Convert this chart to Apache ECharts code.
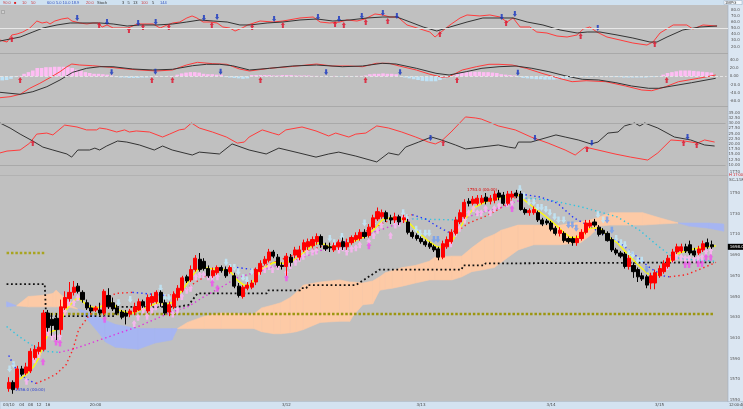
<!DOCTYPE html>
<html>
<head>
<meta charset="utf-8">
<script src="https://cdn.jsdelivr.net/npm/echarts@6/dist/echarts.min.js"></script>
<style>
html,body{margin:0;padding:0;background:#c0c0c0;}
#main{width:743px;height:409px;}
</style>
</head>
<body>
<div id="main"></div>
<script>
// ---- data ----
var categories = [];
for (var n = 0; n < 166; n++) categories.push(String(n));
var timeTicks = {0:'03/10', 3:'04', 5:'08', 7:'12', 9:'16', 20:'20:00', 64:'3/12', 95:'3/13', 125:'3/14', 150:'3/15'};

// [open, close, low, high]
var candles = [
[1561,1567,1558,1572],[1567,1560,1556,1569],[1562,1580,1560,1583],[1580,1575,1573,1583],[1576,1582,1574,1586],
[1578,1597,1576,1600],[1591,1599,1589,1603],[1597,1601,1594,1606],[1599,1634,1597,1637],[1634,1620,1616,1637],
[1628,1622,1612,1634],[1629,1618,1608,1634],[1618,1640,1613,1647],[1639,1649,1637,1655],[1648,1654,1645,1664],
[1654,1659,1651,1665],[1660,1655,1653,1663],[1654,1647,1644,1656],[1644,1639,1637,1647],[1639,1636,1634,1642],
[1637,1639,1635,1641],[1637,1634,1632,1644],[1634,1655,1632,1657],[1651,1640,1638,1658],[1644,1638,1636,1649],
[1639,1634,1632,1642],[1635,1630,1628,1637],[1634,1631,1623,1637],[1633,1636,1630,1638],[1635,1640,1632,1644],
[1637,1645,1636,1648],[1645,1641,1639,1647],[1636,1649,1634,1652],[1644,1650,1641,1653],[1645,1654,1643,1656],
[1654,1644,1640,1656],[1644,1634,1632,1647],[1635,1642,1631,1645],[1640,1652,1638,1655],[1649,1658,1646,1661],
[1656,1668,1654,1670],[1669,1665,1663,1671],[1666,1676,1664,1680],[1676,1687,1674,1690],[1686,1676,1674,1692],
[1684,1677,1675,1687],[1677,1670,1668,1680],[1670,1675,1668,1678],[1673,1678,1671,1680],[1678,1675,1673,1680],
[1676,1670,1668,1679],[1674,1678,1672,1680],[1670,1660,1658,1673],[1660,1651,1649,1663],[1650,1659,1648,1661],
[1658,1661,1656,1664],[1659,1663,1657,1666],[1664,1676,1661,1678],[1674,1682,1671,1685],[1682,1686,1680,1689],
[1685,1693,1683,1696],[1693,1689,1687,1695],[1688,1680,1678,1691],[1680,1679,1676,1683],[1679,1689,1670,1692],
[1688,1683,1679,1691],[1690,1695,1687,1698],[1688,1695,1685,1699],[1695,1702,1693,1705],[1698,1703,1695,1706],
[1699,1705,1697,1708],[1703,1708,1700,1711],[1708,1700,1697,1710],[1699,1696,1694,1702],[1698,1697,1693,1702],
[1695,1699,1693,1702],[1698,1702,1695,1705],[1703,1698,1695,1707],[1698,1702,1695,1705],[1702,1707,1700,1709],
[1705,1709,1703,1712],[1706,1712,1704,1715],[1712,1708,1706,1715],[1709,1717,1707,1720],[1717,1726,1715,1729],
[1725,1732,1723,1736],[1727,1731,1725,1734],[1731,1725,1722,1733],[1726,1724,1720,1729],[1724,1727,1721,1731],
[1727,1722,1719,1729],[1724,1726,1721,1729],[1722,1712,1710,1725],[1712,1708,1706,1714],[1709,1706,1704,1711],
[1706,1703,1701,1708],[1703,1700,1698,1705],[1701,1698,1696,1703],[1698,1695,1693,1700],[1696,1688,1685,1698],
[1688,1701,1686,1704],[1698,1705,1696,1708],[1703,1712,1701,1715],[1711,1724,1709,1727],[1722,1731,1720,1734],
[1727,1741,1725,1744],[1742,1740,1737,1745],[1740,1744,1738,1747],[1740,1745,1738,1748],[1741,1745,1739,1748],
[1746,1742,1739,1750],[1742,1745,1739,1748],[1743,1749,1740,1752],[1750,1746,1743,1753],[1748,1740,1738,1751],
[1740,1749,1738,1752],[1746,1749,1744,1752],[1750,1747,1745,1753],[1749,1734,1733,1752],[1734,1731,1729,1736],
[1731,1733,1728,1735],[1731,1734,1729,1737],[1731,1724,1722,1733],[1724,1720,1718,1726],[1723,1721,1719,1725],
[1721,1715,1713,1723],[1716,1711,1709,1718],[1711,1714,1708,1717],[1711,1704,1702,1713],[1706,1703,1701,1708],
[1706,1702,1699,1708],[1702,1706,1699,1709],[1706,1712,1704,1715],[1712,1721,1710,1724],[1718,1721,1716,1724],
[1722,1719,1717,1725],[1717,1710,1708,1719],[1714,1711,1709,1716],[1711,1704,1703,1713],[1705,1695,1693,1707],
[1695,1692,1690,1697],[1692,1689,1687,1694],[1691,1679,1677,1693],[1679,1687,1676,1690],[1680,1674,1668,1683],
[1676,1669,1664,1678],[1670,1667,1665,1673],[1669,1661,1658,1671],[1663,1670,1657,1673],[1663,1673,1657,1676],
[1670,1677,1668,1680],[1674,1682,1672,1685],[1679,1687,1677,1690],[1685,1693,1683,1696],[1693,1698,1691,1701],
[1694,1698,1692,1701],[1698,1694,1692,1701],[1700,1692,1690,1704],[1694,1690,1688,1697],[1692,1696,1690,1699],
[1695,1701,1693,1704],[1702,1698,1696,1706],[1700,1698,1696,1704]
];

// moving averages, [bar, price]
var maShort = [[2.5,1570],[4.1,1575],[5.7,1582],[7,1591],[8.2,1606],[9.3,1615],[10.9,1618],[12,1626],[13.2,1637],
[14.8,1645],[15.9,1649],[17.1,1645],[18.2,1641],[20,1639],[21.2,1640],[22.3,1644],[23.9,1644],[25.3,1637],[26.9,1635],
[28.5,1634],[29.8,1636],[32.1,1640],[34.4,1644],[36,1642],[37.6,1644],[38.9,1650],[40.5,1659],[42.1,1669],[43.5,1676],
[45.1,1678],[46.7,1677],[48.1,1676],[49.7,1676],[51.3,1673],[52.6,1666],[54.2,1661],[55.8,1661],[58.1,1676],[61.1,1683],
[63.3,1682],[65.6,1685],[67.9,1692],[70.2,1700],[71.8,1702],[74,1698],[76.3,1699],[79.3,1703],[82.3,1708],[84.5,1716],
[86.1,1724],[87.7,1726],[90,1726],[92.3,1721],[94.6,1711],[96.9,1703],[98.7,1698],[100.3,1698],[102.1,1703],[103.7,1714],
[105.1,1724],[107.3,1736],[109.6,1741],[112.8,1745],[115.8,1747],[117.4,1748],[119.7,1740],[121,1736],[123.3,1729],
[125.6,1721],[127.9,1712],[129.5,1707],[131.1,1707],[132.5,1711],[134,1716],[136.3,1716],[137.9,1709],[140.2,1702],
[142.4,1692],[144.7,1682],[147,1673],[148.4,1669],[150,1673],[151.6,1679],[153,1687],[154.5,1692],[156.8,1695],
[159.1,1697],[163,1699]];
var maMid = [[0,1593],[0.6,1588],[1.8,1579],[4.1,1570],[6.3,1566],[8.6,1570],[10.9,1575],[13.2,1584],[14.8,1599],
[16.1,1618],[18.4,1631],[20.7,1642],[24.6,1653],[28.5,1654],[33.7,1652],[36,1651],[37.6,1652],[40.5,1656],[42.8,1663],
[45.1,1669],[49,1676],[52.6,1678],[56.5,1676],[61.1,1683],[65.6,1690],[71.8,1698],[79.3,1707],[86.8,1722],[90,1727],
[93,1729],[96,1725],[99.1,1717],[101.4,1712],[103.7,1714],[106,1721],[109.6,1727],[112.8,1734],[115.8,1743],[118.1,1749],
[122.6,1746],[126.5,1740],[130.2,1726],[132.5,1721],[136.3,1712],[140.2,1704],[143.8,1692],[147.7,1678],[150.7,1670],
[152.3,1669],[156.1,1671],[159.1,1676],[163,1683]];
var maLong = [[-0.5,1621],[2.5,1611],[5.7,1602],[8.6,1597],[11.6,1596],[14.8,1599],[22.3,1610],[29.8,1621],[37.6,1635],
[41.2,1640],[45.1,1650],[49,1659],[52.6,1668],[56.5,1673],[61.1,1679],[67.9,1688],[75.4,1700],[83.2,1711],[86.8,1716],
[90.7,1722],[93,1725],[97.5,1724.5],[103.7,1724],[109.6,1732],[113.5,1736],[116.5,1741],[119.2,1745],[121,1744.5],
[124.9,1743],[132.5,1736],[140.2,1727],[145.4,1714],[149.3,1700],[153,1688],[156.1,1686],[163,1684]];
var baseLine = [[-0.5,1662],[8.3,1662],[8.6,1631],[24.5,1631],[24.8,1640],[38.9,1640],[41.5,1642],[43.5,1653],[59.5,1653],
[59.8,1656],[67.2,1656],[67.5,1658],[68.6,1658],[68.9,1661],[80,1661],[85.5,1676],[104.4,1676],[104.7,1680],[109.6,1680],
[109.9,1682],[113.5,1682],[113.8,1683],[162.5,1683]];
var levelHigh = [[-0.5,1692],[8.2,1692]];
var levelLow = [[8.6,1633],[162.5,1633]];

// cloud: [bar, span A, span B]
var cloud = [[-0.5,1640,1645],[1.8,1641,1641],[4.5,1650,1640],[7.5,1651,1640],[10.2,1653,1640],[10.9,1656,1640],
[12.5,1650,1640],[13.6,1643,1640],[15.9,1638,1638],[17.7,1630,1636],[20.7,1615,1630],[22.3,1606,1627],[24.6,1601,1623],
[29.8,1599,1619],[33.7,1605,1619],[37.6,1608,1619],[38.9,1619,1619],[41.2,1625,1619],[45.1,1631,1619],[49,1634,1619],
[56.5,1633,1619],[58.3,1639,1616],[61.1,1642,1614],[62.7,1644,1614],[64.9,1649,1615],[66.3,1654,1616],[67.9,1661,1618],
[71.8,1664,1625],[76.3,1666,1626],[78.6,1664,1626],[79.3,1664,1631],[81.6,1663,1642],[83.9,1665,1643],[85.5,1669,1656],
[86.8,1673,1657],[88.4,1675,1658],[90.7,1678,1660],[93.7,1680,1663],[96.9,1684,1666],[98.2,1688,1666],[102.1,1689,1666],
[104.4,1689,1669],[106.7,1697,1674],[109.6,1706,1676],[111.9,1710,1678],[113.5,1714,1683],[117.4,1719,1695],
[121,1719,1700],[127.2,1719,1700],[131.8,1722,1702],[134,1724,1709],[136.3,1727,1718],[138.6,1731,1719],
[146.1,1731,1719],[150,1726,1720],[154.3,1721,1721],[156.8,1718,1721],[161.4,1716,1721],[164.8,1713,1720]];

// stop-and-reverse arrows
var sarUp = [[4.1,1568],[5.9,1589],[7,1594],[9.1,1615],[10,1611],[10.9,1611],[11.8,1611],[13,1635],[13.9,1644],[15,1644],
[15.9,1649],[23,1642],[28.9,1624],[29.8,1630],[31,1637],[31.9,1631],[33,1637],[33.9,1640],[35,1644],[36,1637],[37.8,1633],
[38.9,1637],[39.9,1650],[41,1656],[41.9,1658],[43.1,1669],[44,1671],[44.9,1671],[46,1669],[46.9,1668],[48.1,1669],
[57,1674],[57.9,1674],[59,1676],[60,1679],[60.8,1676],[62,1679],[64,1673],[64.9,1680],[66.1,1683],[67,1687],[67.9,1689],
[68.8,1693],[70,1693],[70.9,1694],[72.9,1697],[76.1,1695],[77,1697],[77.9,1693],[79,1696],[80,1697],[80.9,1700],[83,1703],
[84.1,1709],[85,1714],[85.9,1719],[88,1709],[89.1,1719],[90,1721],[90.9,1726],[101,1701],[101.9,1701],[103,1711],
[103.9,1716],[105.1,1724],[106,1731],[107.1,1735],[108,1731],[108.9,1731],[109.9,1735],[111,1731],[111.9,1735],[113,1738],
[114.9,1740],[116,1740],[151.8,1679],[153,1686],[153.9,1689],[155,1688],[155.9,1687],[156.8,1687],[158,1686],[158.9,1687],
[159.8,1688],[160.7,1693],[161.8,1694]];
var sarUpDark = [[7.9,1587],[10.9,1606],[11.8,1605],[22.1,1628],[46.9,1663],[48.1,1658],[64,1668],[83,1699],[116,1735],
[155.9,1681],[156.8,1681],[158.9,1682],[159.8,1682],[160.7,1688],[161.8,1688]];
var sarDown = [[0.2,1580],[1.1,1584],[25.3,1644],[28,1647],[35,1658],[36,1649],[36.9,1649],[50.1,1683],[51,1678],[52,1678],
[52.9,1674],[54,1668],[54.9,1666],[56,1674],[74,1706],[75,1702],[76.8,1708],[82,1721],[84.1,1721],[90.9,1731],[91.8,1726],
[93.9,1715],[94.8,1711],[96,1711],[96.9,1711],[117.8,1754],[118.7,1747],[119.9,1741],[121,1741],[121.9,1736],[122.8,1736],
[123.8,1734],[124.7,1731],[125.8,1727],[126.7,1724],[127.9,1724],[135.8,1729],[137,1724],[140,1706],[141.1,1702],
[142,1700],[142.9,1692],[143.8,1690],[145,1685],[145.9,1685]];
var sarDownDark = [[98,1705],[98.9,1705],[129,1719],[129.9,1719],[130.8,1716],[137.9,1724],[139,1714],[147,1676],
[147.9,1669],[148.8,1669]];

// stochastic panel
var stochK = [[-0.5,30.5],[1.1,27.3],[2.2,38.7],[3.4,40.3],[4.7,43.5],[6.3,50],[7.9,61.3],[9.1,58.1],[10.2,59.7],[10.9,56.5],
[12,61.3],[13.6,64.6],[15,66.2],[15.9,61.3],[17.7,58.1],[19.3,56.5],[20.7,58.1],[21.8,58.1],[22.8,51.6],[23.9,54.9],
[25.3,50],[26.9,50],[28.7,50],[30.3,54.9],[31.4,56.5],[33,56.5],[34.4,56.5],[36,50],[37.6,54.9],[38.9,58.1],[40.5,59.7],
[42.1,66.2],[43.3,69.5],[44.4,66.2],[45.8,59.7],[47.4,59.7],[49,58.1],[50.3,51.6],[51.9,50],[53.1,45.1],[54.7,50],
[56,54.9],[58.8,61.3],[61.8,59.7],[64,61.3],[67.9,66.2],[70.9,67.8],[72.5,59.7],[74.7,58.1],[77,59.7],[78.6,63],
[80.9,61.3],[82.7,64.6],[85,72.7],[86.8,71.1],[88.4,67.8],[90.2,67.8],[92.3,54.9],[94.6,50],[97.5,43.5],[98.7,35.4],
[99.8,41.9],[102.1,54.9],[104.4,66.2],[106,71.1],[108.9,69.5],[111.2,71.1],[113.5,67.8],[115.1,59.7],[116.5,66.2],
[118.1,51.6],[120.3,51.6],[121.9,43.5],[124.2,41.9],[126.5,37],[128.8,35.4],[131.1,38.7],[132.5,48.4],[134,51.6],
[135.6,43.5],[137.9,35.4],[140.9,30.5],[143.8,25.7],[147,22.4],[148.4,27.3],[150,41.9],[153,54.9],[156.1,54.9],
[157.5,48.4],[159.8,54.9],[163,53.2]];
var stochD = [[-0.5,28.9],[4.1,35.4],[7,43.5],[9.3,50],[12.5,54.9],[15.5,58.1],[18.4,58.1],[22.3,58.1],[25.3,56.5],
[28.5,53.2],[31.4,54.9],[35.3,54.9],[38.9,56.5],[42.1,59.7],[45.1,63],[48.1,61.3],[51.3,59.7],[54.2,54.9],[56.5,54.9],
[60.4,58.1],[64,59.7],[67.9,63],[71.8,64.6],[75.4,61.3],[79.3,63],[83.2,66.2],[86.8,67.8],[90,67.8],[93,59.7],[96,51.6],
[99.1,45.1],[102.1,51.6],[106,59.7],[109.6,66.2],[113.5,66.2],[116.5,66.2],[119.7,59.7],[123.3,54.9],[127.2,46.8],
[131.1,41.9],[133.4,43.5],[136.3,43.5],[140.2,38.7],[143.8,33.8],[147.7,27.3],[149.3,27.3],[151.6,35.4],[155.2,46.8],
[159.1,51.6],[163,53.2]];
var stochBuy = [[2.2,32.2],[22.1,54.9],[28.9,46.8],[32.1,51.6],[38,51.6],[47.8,54.9],[57,51.6],[64,54.9],[75.9,56.5],
[77.9,54.9],[82.9,59.7],[87.9,61.3],[99.8,40.3],[114.9,58.1],[131.9,37],[148.8,24.1]];
var stochSell = [[17.1,66.2],[23.9,59.7],[31,58.1],[35,59.7],[46,66.2],[49,67.8],[62,64.6],[72,67.8],[76.8,64.6],[82,69.5],
[86.8,74.3],[90,69.5],[113.9,67.8],[116.9,72.7],[135.8,50]];

// MACD panel
var macdLine = [[-0.5,-51.6],[1.8,-49.2],[4.1,-43.4],[6.3,-28.9],[8.6,-16.9],[10.9,-3.4],[13.2,11.1],[14.8,23.1],[15.9,29.6],
[17.7,27.2],[20.7,25.5],[24.6,21.7],[28.5,17.6],[31.4,15.2],[35.3,12.8],[38.9,15.2],[42.1,27.2],[44.6,33.7],[48.1,30.4],
[51.3,28.9],[54.2,17.6],[56.5,12.8],[61.1,19.3],[65.6,23.1],[71.8,29.6],[75.4,24.8],[79.3,24.8],[82.3,23.1],[85.5,31.3],
[88.4,31.3],[90.7,24.8],[94.6,15.2],[97.5,5.5],[100.5,-2.4],[102.1,-1],[105.1,15.2],[108.3,23.1],[111.2,28.9],
[113.5,28.9],[116.5,27.2],[119.7,19.3],[123.3,7.2],[127.2,-4.8],[130.2,-13],[133.4,-10.6],[137.9,-13],[142.4,-23.4],
[146.1,-33],[148.4,-34.7],[151.6,-25.1],[154.5,-13],[159.1,-4.8],[163,3.1]];
var signalLine = [[-0.5,-38.6],[4.1,-43.4],[7,-37.1],[10.2,-25.1],[13.2,-8.9],[16.1,9.6],[19.3,19.3],[22.3,23.1],
[25.3,23.1],[29.8,17.6],[34.4,15.2],[38.9,16.9],[43.5,25.5],[46.7,28.9],[49.7,28.9],[52.6,25.5],[56.5,15.2],[61.1,19.3],
[66.3,24.8],[71.8,27.2],[77.7,23.1],[82.3,24.8],[86.8,31.3],[90,29.6],[94.6,19.3],[99.1,7.2],[102.1,3.1],[106,11.1],
[109.6,19.3],[113.5,23.1],[117.4,24.8],[121,19.3],[124.9,11.1],[128.8,0.7],[132.5,-7.2],[136.3,-8.9],[140.2,-15.4],
[143.8,-23.4],[147.7,-28.9],[150,-28.9],[153,-23.4],[157.5,-15.4],[163,-4.8]];
var macdHist = [-10,-9,-6,-2,1,6,10,14,20,20,22,22,23,23,23,22,20,16,14,10,8,6,6,5,4,2,-2,-3,-3,-4,-4,-4,-3,-3,-2,1,1,-1,1,1,
4,7,9,10,10,9,6,5,5,4,4,-2,-3,-4,-5,-6,-5,
3,3,3,3,3,2,2,3,3,3,2,2,2,2,1,
1,-1,1,-1,1,-1,-1,1,-1,1,1,
2,5,6,6,7,6,6,5,
-1,-3,-5,-7,-9,-11,-12,-12,-12,-9,-5,-2,
2,5,8,10,11,11,11,10,10,9,8,
5,4,3,2,
-2,-4,-5,-6,-7,-7,-8,-8,-8,-7,-6,-5,-4,
-2,-2,-2,-2,-1,-1,-2,-2,-2,-2,
-2,-3,-3,-3,-3,-3,-3,-2,-2,-1,
4,8,10,12,14,14,14,13,12,11,10,9];
var macdBuy = [[4.1,-8.9],[34.2,-8.9],[38.9,-8.9],[59,-8.9],[83,-8.9],[103.9,-8.9],[151.8,-8.9]];
var macdSell = [[25,9.6],[35,11.1],[49.9,11.1],[74,9.6],[90.9,9.6],[117.8,8.7]];

// DMI panel
var diPlus = [[-0.5,15.7],[1.1,16.6],[4.1,17.1],[6.3,20.4],[7.9,24.7],[10.2,25.2],[11.6,24.3],[14.3,29],[17.1,28.1],
[19.3,26.7],[21.6,26.7],[22.3,27.6],[23.9,27.1],[26.2,25.7],[28,26.7],[29.1,25.7],[30.7,26.2],[33.7,25.7],[36.7,23.3],
[38.3,24.7],[40.5,26.7],[41.7,27.1],[43.3,30],[45.1,27.6],[48.1,25.7],[51.3,23.3],[53.8,20.4],[55.4,20.9],[56.5,23.3],
[59.5,26.7],[61.8,25.2],[63.3,24.3],[64.9,26.7],[68.6,28.1],[71.8,26.2],[74.7,23.8],[76.3,25.2],[79.3,23.3],[80.9,24.7],
[83.2,25.2],[85.7,28.6],[88.4,27.6],[91.4,25.7],[94.6,23.3],[97.5,20.9],[99.1,20],[100.5,21.4],[102.7,25.7],[106,32.9],
[108.3,32.4],[109.6,31.9],[111.9,30],[113.5,28.6],[117.4,26.7],[121,23.3],[124.9,20.4],[128.8,17.1],[131.1,14.7],
[133.4,18.5],[136.3,17.1],[140.2,15.2],[143.8,13.7],[147.7,12.3],[150,15.7],[153,21.9],[156.1,21.4],[159.1,20.4],
[160.7,21.9],[163,20.9]];
var diMinus = [[-0.5,30],[1.8,27.6],[4.1,24.7],[7,21.4],[9.3,18.5],[11.6,17.1],[14.8,15.2],[15.9,13.7],[17.3,17.1],
[20,17.1],[21.2,18],[22.3,17.1],[23.9,19],[26.4,21.4],[28.5,20.9],[31.4,19.5],[34.8,17.1],[36.7,19],[38.9,17.1],
[43.5,14.7],[45.1,16.1],[49.7,15.2],[52.6,20],[56.5,17.1],[60.4,15.2],[63.3,18],[67.9,15.7],[71.8,13.7],[74.7,15.2],
[77,16.1],[80.9,14.2],[85.7,11.4],[88.4,15.7],[90.7,14.7],[92.3,18.5],[95.3,20.9],[98.2,23.3],[100.5,21.9],[103.7,19.5],
[106,17.6],[109.6,18.5],[113.5,19.5],[115.8,18.5],[117.4,18],[118.1,20.9],[121,20.9],[124.2,22.8],[126.7,24.3],
[128.8,23.3],[131.8,21.9],[134.7,20],[136.3,20.9],[138.6,25.2],[140.9,25.7],[142.4,28.6],[144.7,30],[145.9,28.6],
[147,30],[150,27.6],[153.8,23.3],[157.5,21.9],[160.7,19.5],[163,19]];
var dmiBuy = [[7,20.4],[100.9,20.4],[133.8,17.6],[155.9,20.4],[158.9,19.5]];
var dmiSell = [[98,22.8],[121.9,22.8],[134.9,20.4],[156.8,23.3]];

// ---- chart ----
var myChart = echarts.init(document.getElementById('main'));

var upArrow = 'path://M2,0 L4,3 L3,3 L3,6 L1,6 L1,3 L0,3 Z';
var downArrow = 'path://M1,0 L3,0 L3,3 L4,3 L2,6 L0,3 L1,3 Z';

// one line series per run of rising / falling points
function byDirection(points, upColor, downColor) {
	var out = [], cur = null;
	for (var i = 1; i < points.length; i++) {
		var c = points[i][1] >= points[i - 1][1] ? upColor : downColor;
		if (!cur || cur.color !== c) {
			cur = {color: c, data: [points[i - 1]]};
			out.push(cur);
		}
		cur.data.push(points[i]);
	}
	return out;
}

function line(x, y, data, color, width, type) {
	return {type: 'line', xAxisIndex: x, yAxisIndex: y, data: data, showSymbol: false, silent: true,
		lineStyle: {color: color, width: width, type: type || 'solid'}, z: 3};
}
function arrows(x, y, data, path, color, size) {
	return {type: 'scatter', xAxisIndex: x, yAxisIndex: y, data: data, symbol: path, symbolSize: size || [4, 6],
		itemStyle: {color: color}, silent: true, z: 4};
}
function valueX(grid) {
	return {type: 'value', gridIndex: grid, min: -0.5, max: 165.5, show: false};
}
function rightY(grid, min, max, step, fmt) {
	return {type: 'value', gridIndex: grid, min: min, max: max, interval: step, position: 'right', z: 10,
		axisLine: {show: false}, axisTick: {show: false}, splitLine: {show: false},
		axisLabel: {margin: 3, fontSize: 4, color: '#555', formatter: fmt}};
}

var series = [];

// ichimoku cloud, one quad per step
series.push({
	type: 'custom', xAxisIndex: 4, yAxisIndex: 3, data: cloud, silent: true, z: 1,
	encode: {x: 0, y: [1, 2]},
	renderItem: function (params, api) {
		var i = params.dataIndex;
		if (i >= cloud.length - 1) return null;
		var a = cloud[i], b = cloud[i + 1];
		var bull = (a[1] + b[1]) >= (a[2] + b[2]);
		var col = bull ? '#fdcaa6' : '#a6b5f2';
		return {
			type: 'polygon',
			shape: {points: [api.coord([a[0], a[1]]), api.coord([b[0], b[1]]), api.coord([b[0], b[2]]), api.coord([a[0], a[2]])]},
			style: {fill: col, stroke: col, lineWidth: 0.6}
		};
	}
});

series.push(line(4, 3, levelHigh, '#a8a420', 2.5, [2.5, 1.9]));
series.push(line(4, 3, levelLow, '#9c9610', 2.5, [2.5, 1.9]));
series.push(line(4, 3, baseLine, '#111', 1.8, [1.8, 2.6]));
byDirection(maLong, '#e030e0', '#30c4e0').forEach(function (s) { series.push(line(4, 3, s.data, s.color, 1.4, [1.4, 3])); });
byDirection(maMid, '#ff2020', '#2030ff').forEach(function (s) { series.push(line(4, 3, s.data, s.color, 1.4, [1.4, 3])); });

series.push({
	type: 'candlestick', xAxisIndex: 5, yAxisIndex: 3, data: candles, barWidth: 3.6, silent: true, z: 5,
	itemStyle: {color: '#ff0000', color0: '#000000', borderColor: '#ff0000', borderColor0: '#000000', borderWidth: 1},
	markPoint: {
		symbol: 'circle', symbolSize: 0, silent: true,
		data: [
			{type: 'max', valueDim: 'highest', label: {position: 'left', distance: 2, color: '#e00000', fontSize: 4,
				formatter: function (p) { return p.value.toFixed(1) + ' (00:00)'; }}},
			{type: 'min', valueDim: 'lowest', label: {position: 'right', distance: 2, offset: [0, -4], color: '#2a40d0', fontSize: 4,
				formatter: function (p) { return p.value.toFixed(1) + ' (00:00)'; }}}
		]
	},
	markLine: {
		silent: true, symbol: 'none', lineStyle: {color: 'rgba(0,0,0,0)', width: 0.5},
		data: [{yAxis: candles[candles.length - 1][1]}],
		label: {show: true, position: 'end', distance: 1, backgroundColor: '#000', color: '#fff', fontSize: 4, padding: [1, 2],
			formatter: function (p) { return p.value.toFixed(1); }}
	}
});
series.push(line(4, 3, maShort, '#ffff00', 1.3));
series.push(arrows(4, 3, sarUp, upArrow, '#ffb4f6', [5, 7]));
series.push(arrows(4, 3, sarUpDark, upArrow, '#f050ee', [5, 7]));
series.push(arrows(4, 3, sarDown, downArrow, '#bfe8fb', [5, 7]));
series.push(arrows(4, 3, sarDownDark, downArrow, '#6f9cf0', [5, 7]));

// stochastic
var k = line(0, 0, stochK, '#ff3b3b', 1);
k.markLine = {silent: true, symbol: 'none', label: {show: false}, lineStyle: {color: '#e8e8e8', width: 1, type: 'solid'}, data: [{yAxis: 50}]};
series.push(k);
series.push(line(0, 0, stochD, '#333', 1));
series.push(arrows(0, 0, stochBuy, upArrow, '#e0102a'));
series.push(arrows(0, 0, stochSell, downArrow, '#1535c0'));

// macd
series.push({
	type: 'bar', xAxisIndex: 2, yAxisIndex: 1, data: macdHist, barCategoryGap: '18%', silent: true, z: 2,
	itemStyle: {color: function (p) { return p.value >= 0 ? '#ffbdf4' : '#bfe3f7'; }}
});
var m = line(1, 1, macdLine, '#ff3b3b', 1);
m.markLine = {silent: true, symbol: 'none', label: {show: false}, lineStyle: {color: '#e4e4e4', width: 1, type: [3, 2]}, data: [{yAxis: 0}]};
series.push(m);
series.push(line(1, 1, signalLine, '#333', 1));
series.push(arrows(1, 1, macdBuy, upArrow, '#e0102a'));
series.push(arrows(1, 1, macdSell, downArrow, '#1535c0'));

// dmi
var d = line(3, 2, diPlus, '#ff3b3b', 1);
d.markLine = {silent: true, symbol: 'none', label: {show: false}, lineStyle: {color: '#a9a9a9', width: 1, type: 'solid'}, data: [{yAxis: 30}, {yAxis: 10}]};
series.push(d);
series.push(line(3, 2, diMinus, '#333', 1));
series.push(arrows(3, 2, dmiBuy, upArrow, '#e0102a'));
series.push(arrows(3, 2, dmiSell, downArrow, '#1535c0'));

myChart.setOption({
	animation: false,
	backgroundColor: '#c0c0c0',
	textStyle: {fontFamily: 'DejaVu Sans'},
	grid: [
		{left: 0, width: 728, top: 3.3, height: 49.4},
		{left: 0, width: 728, top: 51.4, height: 58.1},
		{left: 0, width: 728, top: 107.3, height: 62.8},
		{left: 0, width: 728, top: 172.3, height: 227.7}
	],
	xAxis: [
		valueX(0),
		valueX(1),
		{type: 'category', gridIndex: 1, data: categories, show: false},
		valueX(2),
		valueX(3),
		{type: 'category', gridIndex: 3, data: categories, position: 'bottom', z: 10,
			axisLine: {show: false}, axisTick: {show: false},
			axisLabel: {interval: 0, margin: 3, fontSize: 4, color: '#444',
				formatter: function (v, i) { return timeTicks[i] || ''; }}}
	],
	yAxis: [
		rightY(0, 10, 90, 10, function (v) { return (v >= 20 && v <= 80) ? v.toFixed(1) : ''; }),
		rightY(1, -80, 60, 20, function (v) { return (v >= -60 && v <= 40) ? (v === 0 ? '0.00' : v.toFixed(1)) : ''; }),
		rightY(2, 7.5, 37.5, 2.5, function (v) { return (v >= 10 && v <= 35) ? v.toFixed(2) : ''; }),
		rightY(3, 1550, 1770, 20, function (v) { return String(v); })
	],
	graphic: [
		{type: 'rect', z: 1, shape: {x: 0, y: 0, width: 743, height: 5}, style: {fill: '#cfe1f0'}},
		{type: 'rect', z: 1, shape: {x: 728, y: 5, width: 15, height: 397}, style: {fill: '#dbe6f2'}},
		{type: 'rect', z: 1, shape: {x: 0, y: 401.5, width: 743, height: 8}, style: {fill: '#d3e2f0', stroke: '#a8b6c6', lineWidth: 0.5}},
		{type: 'line', z: 1, shape: {x1: 728, y1: 5, x2: 728, y2: 402}, style: {stroke: '#9eacbc', lineWidth: 0.6}},
		{type: 'line', z: 1, shape: {x1: 0, y1: 53.5, x2: 728, y2: 53.5}, style: {stroke: '#a9a9a9', lineWidth: 1}},
		{type: 'line', z: 1, shape: {x1: 0, y1: 106.5, x2: 728, y2: 106.5}, style: {stroke: '#a9a9a9', lineWidth: 1}},
		{type: 'line', z: 1, shape: {x1: 0, y1: 175.5, x2: 728, y2: 175.5}, style: {stroke: '#b2b2b2', lineWidth: 1}},
		{type: 'rect', z: 1, shape: {x: 1.5, y: 10.5, width: 3, height: 3}, style: {fill: '#cfcfcf', stroke: '#888', lineWidth: 0.5}},
		{type: 'rect', z: 1, shape: {x: 724, y: 0.5, width: 18, height: 4}, style: {fill: '#f4f8fc', stroke: '#8aa0b8', lineWidth: 0.4}},
		{type: 'text', z: 2, left: 725, top: 0.5, style: {text: '1MPG', fontSize: 4, fill: '#333'}},
		{type: 'text', z: 2, left: 3, top: 0.5, style: {text: '90.0', fontSize: 4, fill: '#d04040'}},
		{type: 'text', z: 2, left: 14, top: 0.5, style: {text: '■', fontSize: 4, fill: '#e02020'}},
		{type: 'text', z: 2, left: 22, top: 0.5, style: {text: '10', fontSize: 4, fill: '#d04040'}},
		{type: 'text', z: 2, left: 31, top: 0.5, style: {text: '50', fontSize: 4, fill: '#d04040'}},
		{type: 'text', z: 2, left: 47, top: 0.5, style: {text: '60.0 5.0 10.0 18.9', fontSize: 4, fill: '#3050c0'}},
		{type: 'text', z: 2, left: 86, top: 0.5, style: {text: '20.0', fontSize: 4, fill: '#d04040'}},
		{type: 'text', z: 2, left: 97, top: 0.5, style: {text: 'Stoch', fontSize: 4, fill: '#333'}},
		{type: 'text', z: 2, left: 122, top: 0.5, style: {text: '3   5   13', fontSize: 4, fill: '#333'}},
		{type: 'text', z: 2, left: 141, top: 0.5, style: {text: '100', fontSize: 4, fill: '#d04040'}},
		{type: 'text', z: 2, left: 152, top: 0.5, style: {text: '5', fontSize: 4, fill: '#333'}},
		{type: 'text', z: 2, left: 160, top: 0.5, style: {text: '144', fontSize: 4, fill: '#3050c0'}},
		{type: 'text', z: 2, left: 729, top: 173, style: {text: 'H 17:00', fontSize: 4, fill: '#d02020'}},
		{type: 'text', z: 2, left: 729, top: 178, style: {text: 'SC-1.5F', fontSize: 4, fill: '#444'}},
		{type: 'text', z: 2, left: 729, top: 403, style: {text: '12:00:40', fontSize: 4, fill: '#444'}}
	],
	series: series
});
</script>
</body>
</html>
